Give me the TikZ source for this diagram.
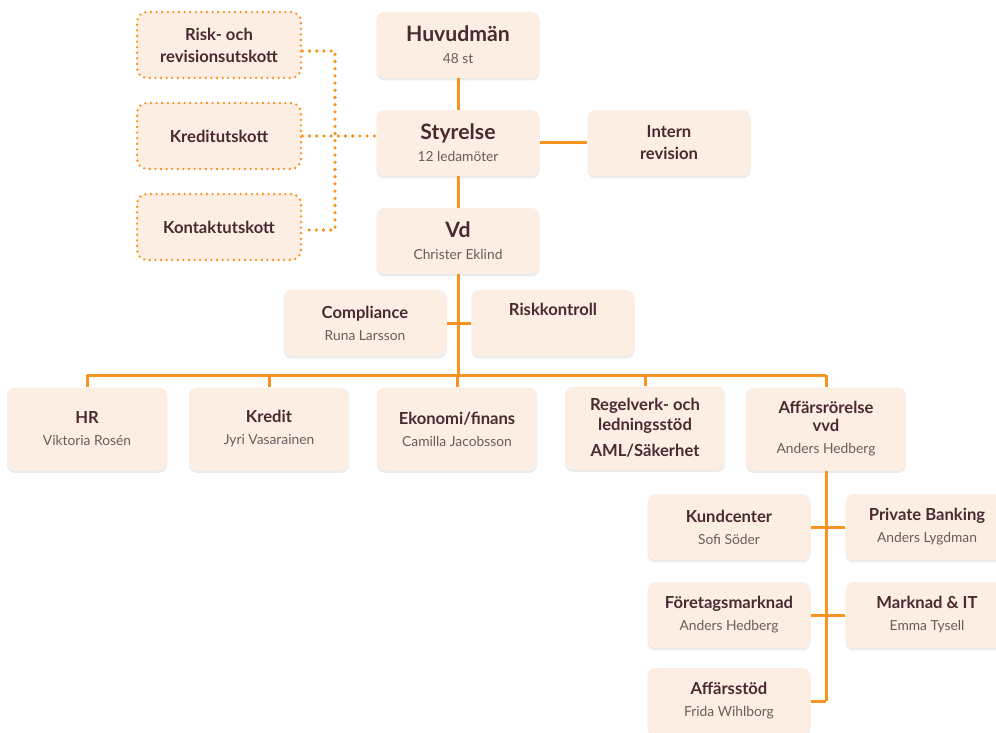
\documentclass[tikz,border=0pt]{standalone}
\usepackage{fontspec}
\setmainfont{Lato}
\usetikzlibrary{shadows}
\definecolor{orgorange}{HTML}{F7931E}
\definecolor{boxfill}{HTML}{FDEEE4}
\definecolor{titlecol}{HTML}{4A2A30}
\definecolor{subcol}{HTML}{6E5A5C}
\newcommand{\bigttl}[1]{{\fontsize{10.6}{12}\selectfont\bfseries\color{titlecol}#1}}
\newcommand{\ttl}[1]{{\fontsize{8.3}{10}\selectfont\bfseries\color{titlecol}#1}}
\newcommand{\sbt}[1]{{\fontsize{6.9}{8}\selectfont\color{subcol}#1}}

\begin{document}
\begin{tikzpicture}[x=0.5pt,y=-0.5pt,
unit/.style={rounded corners=4pt,fill=boxfill,minimum width=81.5pt,minimum height=33pt,align=center,inner sep=2pt,
  font=\fontsize{8.3}{10}\selectfont,
  drop shadow={shadow xshift=0pt,shadow yshift=-1.2pt,opacity=0.08,fill=black}},
rowunit/.style={unit,minimum height=41.5pt,minimum width=80pt},
committee/.style={rounded corners=5pt,fill=boxfill,draw=orgorange,line width=1.3pt,line cap=round,
  dash pattern=on 0pt off 2.8pt,minimum width=82pt,minimum height=33pt,align=center,
  font=\fontsize{8.3}{10}\selectfont},
link/.style={orgorange,line width=1.5pt},
dotlink/.style={orgorange,line width=1.8pt,line cap=round,dash pattern=on 0pt off 3.6pt}]

\clip (0,0) rectangle (996,733);

% board level
\node[unit] (huvud) at (458,45) {\bigttl{Huvudmän}\\[1pt]\sbt{48 st}};
\node[unit] (styr) at (458,143) {\bigttl{Styrelse}\\[1pt]\sbt{12 ledamöter}};
\node[unit] (intern) at (669,143) {\ttl{Intern}\\[1pt]\ttl{revision}};
\node[unit] (vd) at (458,241) {\bigttl{Vd}\\[1pt]\sbt{Christer Eklind}};

\node[committee] (risk) at (219,45) {\ttl{Risk- och}\\[1pt]\ttl{revisionsutskott}};
\node[committee] (kredutsk) at (219,136) {\ttl{Kreditutskott}};
\node[committee] (kontakt) at (219,227) {\ttl{Kontaktutskott}};

\node[unit] (compl) at (365,323) {\ttl{Compliance}\\[1pt]\sbt{Runa Larsson}};
\node[unit] (riskk) at (553,323) {\ttl{Riskkontroll}\\[1pt]\sbt{\strut}};

% departments
\node[rowunit] (hr) at (87,429) {\ttl{HR}\\[1pt]\sbt{Viktoria Rosén}};
\node[rowunit] (kredit) at (269,429) {\ttl{Kredit}\\[1pt]\sbt{Jyri Vasarainen}};
\node[rowunit] (ekon) at (457,429) {\ttl{Ekonomi/finans}\\[1pt]\sbt{Camilla Jacobsson}};
\node[rowunit] (regel) at (645,428) {\ttl{Regelverk- och}\\\ttl{ledningsstöd}\\[3pt]\ttl{AML/Säkerhet}};
\node[rowunit] (affar) at (826,429) {\ttl{Affärsrörelse}\\[-1pt]\ttl{vvd}\\[1pt]\sbt{Anders Hedberg}};

% business units
\node[unit] (kund) at (729,527) {\ttl{Kundcenter}\\[1pt]\sbt{Sofi Söder}};
\node[unit] (priv) at (927,527) {\ttl{Private Banking}\\[1pt]\sbt{Anders Lygdman}};
\node[unit] (foret) at (729,615) {\ttl{Företagsmarknad}\\[1pt]\sbt{Anders Hedberg}};
\node[unit] (markn) at (927,615) {\ttl{Marknad \& IT}\\[1pt]\sbt{Emma Tysell}};
\node[unit] (stod) at (729,701) {\ttl{Affärsstöd}\\[1pt]\sbt{Frida Wihlborg}};

\coordinate (bar) at (458,375);
\coordinate (dj) at (335,0);
\coordinate (spine) at (affar.south |- stod.east);

\draw[link] (huvud) -- (styr);
\draw[link] (styr) -- (vd);
\draw[link] (styr) -- (intern);
\draw[link] (vd) -- (bar);
\draw[link] (compl) -- (riskk);
\draw[link] (hr.north |- bar) -- (affar.north |- bar);
\foreach \n in {hr,kredit,ekon,regel,affar}
{
\draw[link] (\n) -- (\n.north |- bar);
}
\draw[link] (affar) -- (spine);
\draw[link] (kund) -- (priv);
\draw[link] (foret) -- (markn);
\draw[link] (stod) -- (spine);

\draw[dotlink] ([yshift=-3pt]risk.east) -- ([yshift=-3pt]risk.east -| dj) -- ([yshift=-1.5pt]kontakt.east -| dj) -- ([yshift=-1.5pt]kontakt.east);
\draw[dotlink] (kredutsk) -- (styr.west |- kredutsk);
\end{tikzpicture}
\end{document}
